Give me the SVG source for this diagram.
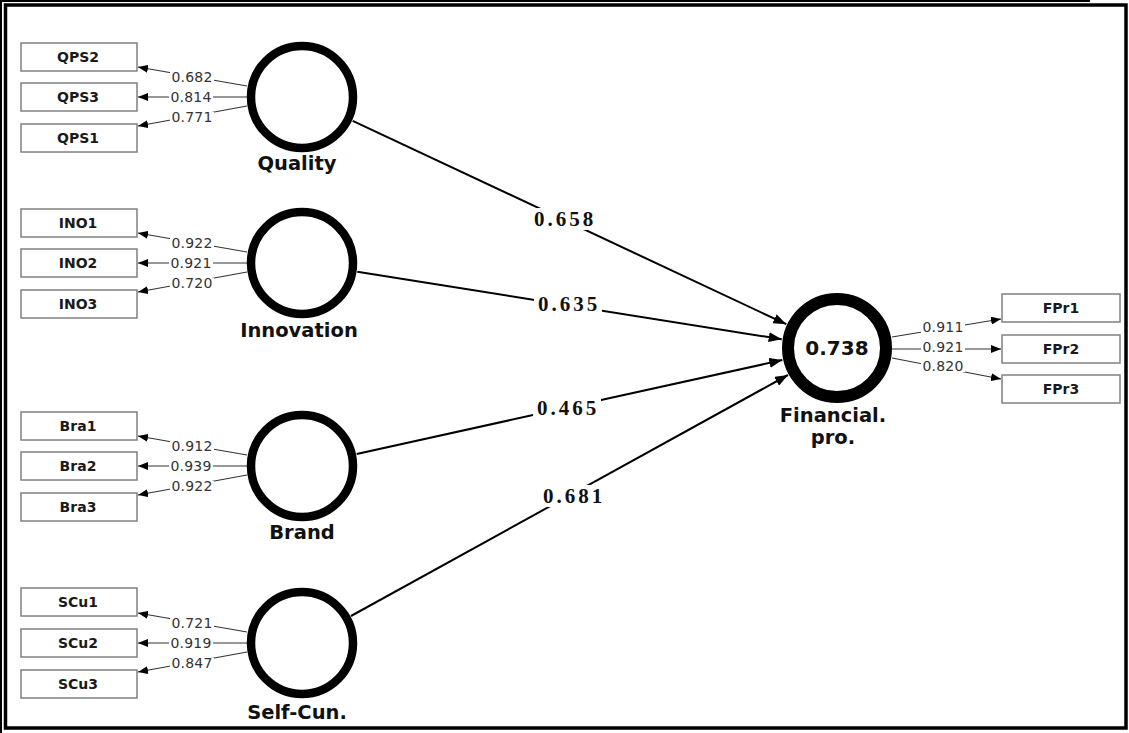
<svg xmlns="http://www.w3.org/2000/svg" width="1129" height="733" viewBox="0 0 1129 733">
<defs>
<style>
.box{fill:#fff;stroke:#808080;stroke-width:1.5}
.bt{font-family:"DejaVu Sans",Verdana,sans-serif;font-weight:bold;font-size:14px;fill:#1a1a1a;text-anchor:middle}
.lv{fill:none;stroke:#000;stroke-width:8.5}
.lt{font-family:"DejaVu Sans",Verdana,sans-serif;font-weight:bold;font-size:19.5px;fill:#111;text-anchor:middle}
.ld{stroke:#333;stroke-width:1.2;fill:none;marker-end:url(#sa)}
.lw{font-family:"DejaVu Sans",Verdana,sans-serif;font-size:14px;fill:#333;text-anchor:middle;letter-spacing:0.2px}
.bg{fill:#fff}
.pth{stroke:#000;stroke-width:2;fill:none;marker-end:url(#ba)}
.pw{font-family:"Liberation Serif","Times New Roman",serif;font-weight:bold;font-size:21px;fill:#111;text-anchor:middle;letter-spacing:3px}
</style>
<marker id="sa" viewBox="0 0 10 8" refX="10" refY="4" markerWidth="10" markerHeight="8" markerUnits="userSpaceOnUse" orient="auto"><path d="M0,0 L10,4 L0,8 z" fill="#000"/></marker>
<marker id="ba" viewBox="0 0 13 10" refX="13" refY="5" markerWidth="13" markerHeight="10" markerUnits="userSpaceOnUse" orient="auto"><path d="M0,0 L13,5 L0,10 z" fill="#000"/></marker>
</defs>
<rect width="1129" height="733" fill="#fff"/>
<g id="frame">
<rect x="0" y="0" width="2" height="733" fill="#000"/>
<rect x="0" y="0" width="1090" height="2" fill="#000"/>
<rect x="5.5" y="5" width="1120.5" height="723" fill="none" stroke="#000" stroke-width="3.5"/>
</g>
<g id="connectors">
<line class="pth" x1="352.7" y1="120.8" x2="786.3" y2="324.2"/>
<line class="pth" x1="357.3" y1="271.8" x2="781.7" y2="339.2"/>
<line class="pth" x1="356.7" y1="453.9" x2="782.3" y2="360.1"/>
<line class="pth" x1="351" y1="616" x2="788" y2="375"/>
<rect class="bg" x="530" y="208" width="68" height="22"/>
<rect class="bg" x="534" y="293" width="68" height="22"/>
<rect class="bg" x="533" y="397" width="68" height="22"/>
<rect class="bg" x="539" y="485" width="68" height="22"/>
<text class="pw" x="565" y="226">0.658</text>
<text class="pw" x="569" y="311">0.635</text>
<text class="pw" x="568" y="415">0.465</text>
<text class="pw" x="574" y="503">0.681</text>
<line class="ld" x1="247" y1="86" x2="138" y2="67"/>
<line class="ld" x1="247" y1="97" x2="138" y2="97"/>
<line class="ld" x1="247" y1="106" x2="138" y2="126"/>
<rect class="bg" x="170" y="72" width="44" height="11"/>
<rect class="bg" x="169" y="92" width="44" height="11"/>
<rect class="bg" x="170" y="112" width="44" height="11"/>
<text class="lw" x="192" y="82">0.682</text>
<text class="lw" x="191" y="102">0.814</text>
<text class="lw" x="192" y="122">0.771</text>
<line class="ld" x1="247" y1="252" x2="138" y2="233"/>
<line class="ld" x1="247" y1="263" x2="138" y2="263"/>
<line class="ld" x1="247" y1="272" x2="138" y2="292"/>
<rect class="bg" x="170" y="238" width="44" height="11"/>
<rect class="bg" x="169" y="258" width="44" height="11"/>
<rect class="bg" x="170" y="278" width="44" height="11"/>
<text class="lw" x="192" y="248">0.922</text>
<text class="lw" x="191" y="268">0.921</text>
<text class="lw" x="192" y="288">0.720</text>
<line class="ld" x1="247" y1="455" x2="138" y2="436"/>
<line class="ld" x1="247" y1="466" x2="138" y2="466"/>
<line class="ld" x1="247" y1="475" x2="138" y2="495"/>
<rect class="bg" x="170" y="441" width="44" height="11"/>
<rect class="bg" x="169" y="461" width="44" height="11"/>
<rect class="bg" x="170" y="481" width="44" height="11"/>
<text class="lw" x="192" y="451">0.912</text>
<text class="lw" x="191" y="471">0.939</text>
<text class="lw" x="192" y="491">0.922</text>
<line class="ld" x1="247" y1="632" x2="138" y2="613"/>
<line class="ld" x1="247" y1="643" x2="138" y2="643"/>
<line class="ld" x1="247" y1="652" x2="138" y2="672"/>
<rect class="bg" x="170" y="618" width="44" height="11"/>
<rect class="bg" x="169" y="638" width="44" height="11"/>
<rect class="bg" x="170" y="658" width="44" height="11"/>
<text class="lw" x="192" y="628">0.721</text>
<text class="lw" x="191" y="648">0.919</text>
<text class="lw" x="192" y="668">0.847</text>
<line class="ld" x1="892" y1="337" x2="1001" y2="319"/>
<line class="ld" x1="892" y1="349" x2="1001" y2="349"/>
<line class="ld" x1="892" y1="358" x2="1001" y2="379"/>
<rect class="bg" x="921" y="322" width="44" height="11"/>
<rect class="bg" x="921" y="342" width="44" height="11"/>
<rect class="bg" x="921" y="361" width="44" height="11"/>
<text class="lw" x="943" y="332">0.911</text>
<text class="lw" x="943" y="352">0.921</text>
<text class="lw" x="943" y="371">0.820</text>
</g>
<g id="QPS2"><rect class="box" x="21" y="43" width="116" height="28"/><text class="bt" x="78" y="62">QPS2</text></g>
<g id="QPS3"><rect class="box" x="21" y="83" width="116" height="28"/><text class="bt" x="78" y="102">QPS3</text></g>
<g id="QPS1"><rect class="box" x="21" y="124" width="116" height="28"/><text class="bt" x="78" y="143">QPS1</text></g>
<g id="INO1"><rect class="box" x="21" y="209" width="116" height="28"/><text class="bt" x="78" y="228">INO1</text></g>
<g id="INO2"><rect class="box" x="21" y="249" width="116" height="28"/><text class="bt" x="78" y="268">INO2</text></g>
<g id="INO3"><rect class="box" x="21" y="290" width="116" height="28"/><text class="bt" x="78" y="309">INO3</text></g>
<g id="Bra1"><rect class="box" x="21" y="412" width="116" height="28"/><text class="bt" x="78" y="431">Bra1</text></g>
<g id="Bra2"><rect class="box" x="21" y="452" width="116" height="28"/><text class="bt" x="78" y="471">Bra2</text></g>
<g id="Bra3"><rect class="box" x="21" y="493" width="116" height="28"/><text class="bt" x="78" y="512">Bra3</text></g>
<g id="SCu1"><rect class="box" x="21" y="588" width="116" height="28"/><text class="bt" x="78" y="607">SCu1</text></g>
<g id="SCu2"><rect class="box" x="21" y="629" width="116" height="28"/><text class="bt" x="78" y="648">SCu2</text></g>
<g id="SCu3"><rect class="box" x="21" y="670" width="116" height="28"/><text class="bt" x="78" y="689">SCu3</text></g>
<g id="FPr1"><rect class="box" x="1002" y="294" width="118" height="28"/><text class="bt" x="1061" y="313">FPr1</text></g>
<g id="FPr2"><rect class="box" x="1002" y="335" width="118" height="28"/><text class="bt" x="1061" y="354">FPr2</text></g>
<g id="FPr3"><rect class="box" x="1002" y="375" width="118" height="28"/><text class="bt" x="1061" y="394">FPr3</text></g>
<g id="Quality"><circle class="lv" cx="302" cy="97" r="51"/><text class="lt" x="297" y="170">Quality</text></g>
<g id="Innovation"><circle class="lv" cx="302" cy="263" r="51"/><text class="lt" x="299" y="337">Innovation</text></g>
<g id="Brand"><circle class="lv" cx="302" cy="466" r="51"/><text class="lt" x="302" y="539">Brand</text></g>
<g id="SelfCun"><circle class="lv" cx="302" cy="643" r="51"/><text class="lt" x="297" y="719">Self-Cun.</text></g>
<g id="Financial"><circle cx="837" cy="348" r="49" fill="none" stroke="#000" stroke-width="12"/><text x="837" y="355" font-family="DejaVu Sans,Verdana,sans-serif" font-weight="bold" font-size="20px" fill="#111" text-anchor="middle">0.738</text><text class="lt" x="833" y="422">Financial.</text><text class="lt" x="833" y="444">pro.</text></g>
</svg>
